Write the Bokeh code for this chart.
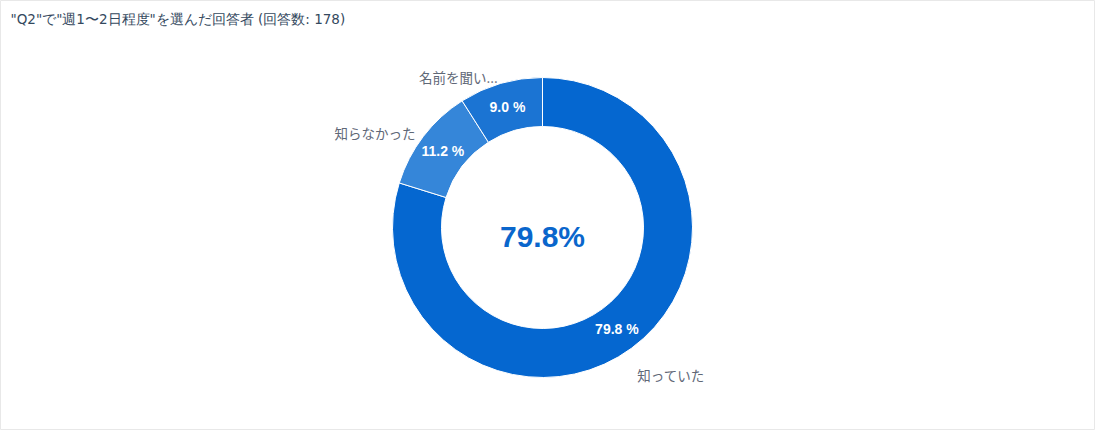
import math
from bokeh.plotting import figure
from bokeh.models import Range1d, ColumnDataSource
from bokeh.core.properties import value
from bokeh.embed import file_html
from bokeh.resources import INLINE

title_text = '"Q2"で"週1〜2日程度"を選んだ回答者 (回答数: 178)'
categories = ["知っていた", "知らなかった", "名前を聞い..."]
percents = [79.8, 11.2, 9.0]
colors = ["#0567d0", "#3586d9", "#1b74d3"]

W, H = 1095, 430
cx, cy = 542, 430 - 227
r_in, r_out = 101, 150

p = figure(width=W, height=H, output_backend="svg", toolbar_location=None,
           x_range=Range1d(0, W), y_range=Range1d(0, H), min_border=0)
p.axis.visible = False
p.grid.visible = False
p.outline_line_color = "#e8e8e8"
p.background_fill_color = "white"
p.border_fill_color = "white"

total = sum(percents)
starts, ends, mids = [], [], []
cum = 0.0
for v in percents:
    a0 = math.pi / 2 - 2 * math.pi * cum / total
    cum += v
    a1 = math.pi / 2 - 2 * math.pi * cum / total
    starts.append(a0)
    ends.append(a1)
    mids.append((a0 + a1) / 2)

src = ColumnDataSource(dict(x=[cx] * 3, y=[cy] * 3, s=starts, e=ends, c=colors))
p.annular_wedge(x="x", y="y", inner_radius=r_in, outer_radius=r_out,
                inner_radius_units="screen", outer_radius_units="screen",
                start_angle="s", end_angle="e", direction="clock",
                fill_color="c", line_color="white", line_width=1, source=src)

# inside percentage labels
rm = (r_in + r_out) / 2
lx = [cx + rm * math.cos(a) for a in mids]
ly = [cy + rm * math.sin(a) for a in mids]
p.text(x=lx, y=ly, text=[f"{v:.1f} %" for v in percents],
       text_color="white", text_font=value("Liberation Sans"),
       text_font_style="bold", text_font_size="14px",
       text_align="center", text_baseline="middle")

# outside category labels
ox, oy, al = [], [], []
for a in mids:
    r = r_out + 10
    x = cx + r * math.cos(a)
    y = cy + r * math.sin(a)
    y -= 20 * max(0.0, -math.sin(a))
    ox.append(x)
    oy.append(y)
    al.append("left" if math.cos(a) >= 0 else "right")
p.text(x=ox, y=oy, text=categories, text_align=al, y_offset=3,
       text_color="#5f6877", text_font=value("Noto Sans CJK JP"),
       text_font_size="13.5px", text_baseline="middle")

# center value
p.text(x=[cx], y=[cy], text=[f"{percents[0]:.1f}%"], text_color="#0a66cc",
       text_font=value("Liberation Sans"), text_font_style="bold",
       text_font_size="30px", text_align="center", text_baseline="middle",
       y_offset=9)

# title
p.text(x=[10], y=[H - 18], text=[title_text], text_color="#34495e",
       text_font=value("DejaVu Sans"), text_font_size="13.5px",
       text_align="left", text_baseline="middle")

open("out.html", "w").write(file_html(p, INLINE))
